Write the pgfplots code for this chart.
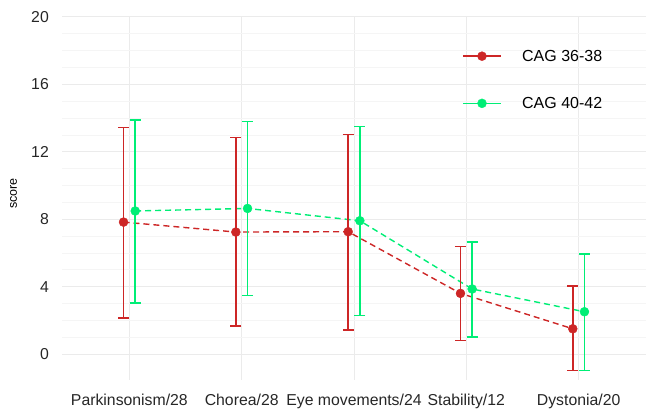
\documentclass[border=0pt]{standalone}
\usepackage{pgfplots}
\usepackage{pgfplotstable}
\pgfplotsset{compat=1.18}
\usepackage{fontspec}
\setmainfont{Liberation Sans}

\definecolor{cagred}{HTML}{CD2626}
\definecolor{caggreen}{HTML}{00EE76}
\definecolor{gridmaj}{HTML}{EBEBEB}
\definecolor{gridmin}{HTML}{F5F5F5}

% columns: x, mean, lower, upper
\pgfplotstableread{
x  y     lo     hi
1  7.83  2.14   13.45
2  7.24  1.66   12.86
3  7.26  1.42   13.03
4  3.60  0.79   6.37
5  1.50  -0.99  4.04
}\cagA
\pgfplotstableread{
x  y     lo     hi
1  8.49  3.03   13.89
2  8.64  3.46   13.79
3  7.91  2.29   13.49
4  3.86  1.01   6.65
5  2.51  -0.99  5.93
}\cagB

\begin{document}
\begin{tikzpicture}
\begin{axis}[
    name=ax,
    scale only axis,
    width=584bp, height=363bp,
    xmin=0.4, xmax=5.6,
    ymin=-1.54, ymax=20,
    xtick={1,2,3,4,5},
    xticklabels={Parkinsonism/28, Chorea/28, Eye movements/24, Stability/12, Dystonia/20},
    ytick={0,4,8,12,16,20},
    minor y tick num=3,
    xmajorgrids, ymajorgrids, yminorgrids,
    major grid style={draw=gridmaj, line width=1bp},
    minor grid style={draw=gridmin, line width=0.8bp},
    axis line style={draw=none},
    tick style={draw=none},
    /pgf/number format/assume math mode=true,
    ticklabel style={font=\fontsize{15.8bp}{18bp}\selectfont, text=black!85},
    yticklabel style={inner sep=0pt, xshift=-13bp},
    xticklabel style={inner sep=0pt, anchor=north, yshift=-14bp},
    ylabel={score},
    % label is rotated: xshift moves it up, yshift moves it left
    ylabel style={at={(rel axis cs:0,0.5)}, anchor=center,
        xshift=5bp, yshift=48.5bp, inner sep=0pt,
        font=\fontsize{12.5bp}{14bp}\selectfont},
    legend style={at={(0.685,0.908)}, anchor=north west, draw=none, fill=none,
        inner sep=0pt, row sep=36bp, column sep=0pt,
        font=\fontsize{16bp}{19bp}\selectfont,
        nodes={inner sep=0pt, text depth=0pt}},
    legend cell align=left,
    legend image code/.code={
        \draw[#1, solid, line width=1.5bp] (0bp,0bp) -- (38bp,0bp);
        \fill[#1] (19bp,0bp) circle (4.5bp);
        \path (59bp,0bp);
    },
]
% dashed connecting lines
\addplot[cagred, line width=1.4bp, dash pattern=on 6bp off 4bp, forget plot]
    table[x expr=\thisrow{x}-0.052, y=y] {\cagA};
\addplot[caggreen, line width=1.4bp, dash pattern=on 6bp off 4bp, forget plot]
    table[x expr=\thisrow{x}+0.052, y=y] {\cagB};
% error bars and points
\addplot[cagred, only marks, mark=*, mark size=4.5bp, forget plot,
    error bars/.cd, y dir=both, y explicit,
    error bar style={line width=1.5bp, solid},
    error mark=|,
    error mark options={line width=1.5bp, mark size=5.5bp}]
    table[x expr=\thisrow{x}-0.052, y=y,
          y error plus expr=\thisrow{hi}-\thisrow{y},
          y error minus expr=\thisrow{y}-\thisrow{lo}] {\cagA};
\addplot[caggreen, only marks, mark=*, mark size=4.5bp, forget plot,
    error bars/.cd, y dir=both, y explicit,
    error bar style={line width=1.5bp, solid},
    error mark=|,
    error mark options={line width=1.5bp, mark size=5.5bp}]
    table[x expr=\thisrow{x}+0.052, y=y,
          y error plus expr=\thisrow{hi}-\thisrow{y},
          y error minus expr=\thisrow{y}-\thisrow{lo}] {\cagB};
\addlegendimage{cagred}
\addlegendentry{CAG 36-38}
\addlegendimage{caggreen}
\addlegendentry{CAG 40-42}
\end{axis}
\pgfresetboundingbox
\path ([xshift=-62bp,yshift=-30bp]ax.south west) rectangle ([yshift=17bp]ax.north east);
\end{tikzpicture}
\end{document}
